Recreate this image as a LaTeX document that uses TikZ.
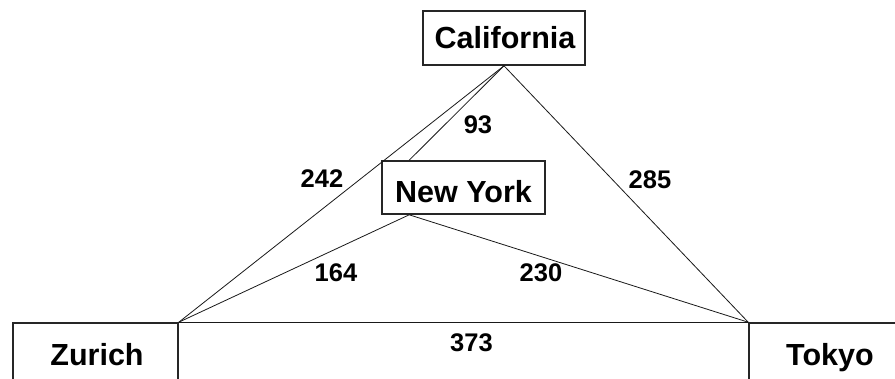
\documentclass[tikz,border=0pt]{standalone}
\usepackage{fontspec}
\setmainfont{Liberation Sans}
\begin{document}
\begin{tikzpicture}[x=1pt,y=-1pt,
  city/.style={draw=black!85, line width=1.6pt, inner sep=0pt},
  citytext/.style={font=\fontsize{30.5}{30.5}\selectfont\bfseries, inner sep=0pt, anchor=base},
  dist/.style={font=\fontsize{25.5}{25.5}\selectfont\bfseries, inner sep=0pt},
  link/.style={line width=0.8pt, black!90}]
\useasboundingbox (0,0) rectangle (895,378);
\clip (0,0) rectangle (895,378);
\fill[white] (0,0) rectangle (895,378);
\node[city, minimum width=162pt, minimum height=54pt] (ca) at (504,38) {};
\node[city, minimum width=163pt, minimum height=53pt] (ny) at (463.5,187.5) {};
\node[city, minimum width=165pt, minimum height=64pt] (zu) at (95.5,355) {};
\node[city, minimum width=170pt, minimum height=64pt] (to) at (834,355) {};
\node[citytext] (calabel) at (505,48.5) {California};
\node[citytext] (nylabel) at (463.5,202.5) {New York};
\node[citytext] (zulabel) at (97,365) {Zurich};
\node[citytext] (tolabel) at (830,365) {Tokyo};
\coordinate (nytop) at ([xshift=28pt]ny.north west);
\coordinate (nybot) at ([xshift=28pt]ny.south west);
\draw[link] (ca.south) -- (zu.north east);
\draw[link] (ca.south) -- (nytop);
\draw[link] (ca.south) -- (to.north west);
\draw[link] (nybot) -- (zu.north east);
\draw[link] (nybot) -- (to.north west);
\draw[link] (zu.north east) -- (to.north west);
\node[dist] (d93) at (478,125) {93};
\node[dist] (d242) at (322,179) {242};
\node[dist] (d285) at (650,180) {285};
\node[dist] (d164) at (336,273) {164};
\node[dist] (d230) at (541,273) {230};
\node[dist] (d373) at (471.5,343) {373};
\end{tikzpicture}
\end{document}
